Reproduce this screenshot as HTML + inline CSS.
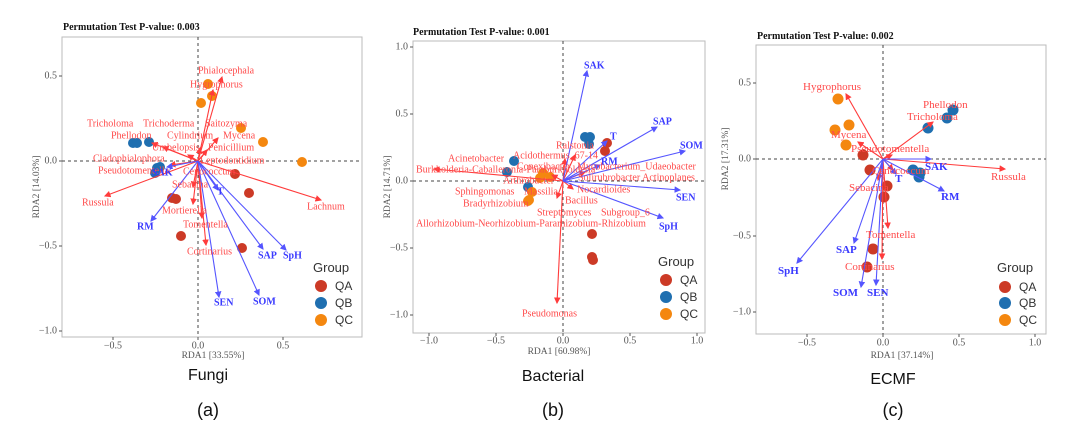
<!DOCTYPE html>
<html><head><meta charset="utf-8"><style>
html,body{margin:0;padding:0;background:#fff;}
svg{display:block;}
.r{fill:#ff4a4a;font-family:"Liberation Serif",serif;font-size:10px;dominant-baseline:central;}
.b{fill:#3a3aff;font-family:"Liberation Serif",serif;font-size:10px;font-weight:bold;dominant-baseline:central;}
.tk{fill:#555;font-family:"Liberation Serif",serif;font-size:10px;dominant-baseline:central;}
.ttl{fill:#111;font-family:"Liberation Serif",serif;font-size:10px;font-weight:bold;}
.ax{fill:#555;font-family:"Liberation Serif",serif;font-size:9.5px;text-anchor:middle;}
.lg{fill:#333;font-family:"Liberation Sans",sans-serif;font-size:13px;}
.lt{fill:#333;font-family:"Liberation Sans",sans-serif;font-size:12px;dominant-baseline:central;}
.cap{fill:#111;font-family:"Liberation Sans",sans-serif;font-size:16px;text-anchor:middle;}
.pl{fill:#111;font-family:"Liberation Sans",sans-serif;font-size:18px;text-anchor:middle;}
.ra line{stroke:#ff3b3b;stroke-width:1.1;marker-end:url(#ar);}
.ba line{stroke:#5555ff;stroke-width:1.1;marker-end:url(#ab);}
.frame{fill:none;stroke:#bbb;stroke-width:1;}
.dz{stroke:#444;stroke-width:1;stroke-dasharray:3,3;}
</style></head><body>
<svg width="1080" height="426" viewBox="0 0 1080 426" xmlns="http://www.w3.org/2000/svg">
<defs>
<marker id="ar" markerWidth="6" markerHeight="6" refX="5" refY="3" orient="auto"><path d="M0,0 L6,3 L0,6 z" fill="#ff3b3b"/></marker>
<marker id="ab" markerWidth="6" markerHeight="6" refX="5" refY="3" orient="auto"><path d="M0,0 L6,3 L0,6 z" fill="#5555ff"/></marker>
</defs>

<!-- ============ Panel a ============ -->
<text class="ttl" x="63" y="30">Permutation Test P-value: 0.003</text>
<rect class="frame" x="62" y="37" width="300" height="300"/>
<line class="dz" x1="198" y1="37" x2="198" y2="337"/>
<line class="dz" x1="62" y1="161" x2="362" y2="161"/>
<g stroke="#555"><line x1="59" y1="76" x2="62" y2="76"/><line x1="59" y1="161" x2="62" y2="161"/><line x1="59" y1="246" x2="62" y2="246"/><line x1="59" y1="331" x2="62" y2="331"/>
<line x1="113" y1="337" x2="113" y2="340"/><line x1="198" y1="337" x2="198" y2="340"/><line x1="283" y1="337" x2="283" y2="340"/></g>
<g class="tk" text-anchor="end"><text x="57" y="76">0.5</text><text x="57" y="161">0.0</text><text x="57" y="246">−0.5</text><text x="57" y="331">−1.0</text></g>
<g class="tk" text-anchor="middle"><text x="113" y="346">−0.5</text><text x="198" y="346">0.0</text><text x="283" y="346">0.5</text></g>
<text class="ax" x="213" y="358">RDA1 [33.55%]</text>
<text class="ax" transform="translate(39,187) rotate(-90)">RDA2 [14.03%]</text>
<g>
<circle cx="208" cy="84" r="5" fill="#f4870f"/><circle cx="212" cy="96" r="5" fill="#f4870f"/><circle cx="201" cy="103" r="5" fill="#f4870f"/><circle cx="241" cy="128" r="5" fill="#f4870f"/><circle cx="263" cy="142" r="5" fill="#f4870f"/><circle cx="302" cy="162" r="5" fill="#f4870f"/>
<circle cx="133" cy="143" r="5" fill="#1f6fb0"/><circle cx="137" cy="143" r="5" fill="#1f6fb0"/><circle cx="149" cy="142" r="5" fill="#1f6fb0"/><circle cx="157" cy="168" r="5" fill="#1f6fb0"/><circle cx="160" cy="167" r="5" fill="#1f6fb0"/><circle cx="155" cy="173" r="5" fill="#1f6fb0"/>
<circle cx="235" cy="174" r="5" fill="#cc3a26"/><circle cx="249" cy="193" r="5" fill="#cc3a26"/><circle cx="172" cy="198" r="5" fill="#cc3a26"/><circle cx="176" cy="199" r="5" fill="#cc3a26"/><circle cx="181" cy="236" r="5" fill="#cc3a26"/><circle cx="242" cy="248" r="5" fill="#cc3a26"/>
</g>
<g class="ra">
<line x1="198" y1="161" x2="222" y2="77"/><line x1="198" y1="161" x2="213" y2="90"/><line x1="198" y1="161" x2="321" y2="200"/><line x1="198" y1="161" x2="105" y2="196"/><line x1="198" y1="161" x2="193" y2="204"/><line x1="198" y1="161" x2="202" y2="218"/><line x1="198" y1="161" x2="206" y2="245"/><line x1="198" y1="161" x2="193" y2="187"/><line x1="198" y1="161" x2="163" y2="147"/><line x1="198" y1="161" x2="152" y2="143"/><line x1="198" y1="161" x2="218" y2="138"/><line x1="198" y1="161" x2="207" y2="150"/><line x1="198" y1="161" x2="188" y2="155"/><line x1="198" y1="161" x2="200" y2="148"/><line x1="198" y1="161" x2="170" y2="165"/>
</g>
<g class="ba">
<line x1="198" y1="161" x2="167" y2="167"/><line x1="198" y1="161" x2="151" y2="221"/><line x1="198" y1="161" x2="218" y2="190"/><line x1="198" y1="161" x2="263" y2="249"/><line x1="198" y1="161" x2="286" y2="250"/><line x1="198" y1="161" x2="219" y2="297"/><line x1="198" y1="161" x2="259" y2="295"/>
</g>
<g class="r">
<text x="198" y="71">Phialocephala</text><text x="190" y="85">Hygrophorus</text><text x="87" y="124">Tricholoma</text><text x="143" y="124">Trichoderma</text><text x="205" y="124">Saitozyma</text><text x="111" y="136">Phellodon</text><text x="167" y="136">Cylindrium</text><text x="223" y="136">Mycena</text><text x="152" y="148">Umbelopsis</text><text x="208" y="148">Penicillium</text><text x="93" y="159">Cladophialophora</text><text x="200" y="161">Leptodontidium</text><text x="98" y="171">Pseudotomentella</text><text x="183" y="172">Cenococcum</text><text x="172" y="185">Sebacina</text><text x="82" y="203">Russula</text><text x="307" y="207">Lachnum</text><text x="162" y="211">Mortierella</text><text x="183" y="225">Tomentella</text><text x="187" y="252">Cortinarius</text>
</g>
<g class="b">
<text x="152" y="173">SAK</text><text x="137" y="227">RM</text><text x="217" y="192">T</text><text x="258" y="256">SAP</text><text x="283" y="256">SpH</text><text x="214" y="303">SEN</text><text x="253" y="302">SOM</text>
</g>
<text class="lg" x="313" y="272">Group</text>
<circle cx="321" cy="286" r="6" fill="#cc3a26"/><circle cx="321" cy="303" r="6" fill="#1f6fb0"/><circle cx="321" cy="320" r="6" fill="#f4870f"/>
<g class="lt"><text x="335" y="286">QA</text><text x="335" y="303">QB</text><text x="335" y="320">QC</text></g>
<text class="cap" x="208" y="380">Fungi</text>
<text class="pl" x="208" y="416">(a)</text>

<!-- ============ Panel b ============ -->
<text class="ttl" x="413" y="35">Permutation Test P-value: 0.001</text>
<rect class="frame" x="413" y="41" width="292" height="292"/>
<line class="dz" x1="563" y1="41" x2="563" y2="333"/>
<line class="dz" x1="413" y1="181" x2="705" y2="181"/>
<g stroke="#555"><line x1="410" y1="47" x2="413" y2="47"/><line x1="410" y1="114" x2="413" y2="114"/><line x1="410" y1="181" x2="413" y2="181"/><line x1="410" y1="248" x2="413" y2="248"/><line x1="410" y1="315" x2="413" y2="315"/>
<line x1="429" y1="333" x2="429" y2="336"/><line x1="496" y1="333" x2="496" y2="336"/><line x1="563" y1="333" x2="563" y2="336"/><line x1="630" y1="333" x2="630" y2="336"/><line x1="697" y1="333" x2="697" y2="336"/></g>
<g class="tk" text-anchor="end"><text x="408" y="47">1.0</text><text x="408" y="114">0.5</text><text x="408" y="181">0.0</text><text x="408" y="248">−0.5</text><text x="408" y="315">−1.0</text></g>
<g class="tk" text-anchor="middle"><text x="429" y="341">−1.0</text><text x="496" y="341">−0.5</text><text x="563" y="341">0.0</text><text x="630" y="341">0.5</text><text x="697" y="341">1.0</text></g>
<text class="ax" x="559" y="354">RDA1 [60.98%]</text>
<text class="ax" transform="translate(390,187) rotate(-90)">RDA2 [14.71%]</text>
<g>
<circle cx="585" cy="137" r="5" fill="#1f6fb0"/><circle cx="590" cy="137" r="5" fill="#1f6fb0"/><circle cx="589" cy="144" r="5" fill="#1f6fb0"/><circle cx="514" cy="161" r="5" fill="#1f6fb0"/><circle cx="507" cy="172" r="5" fill="#1f6fb0"/><circle cx="528" cy="187" r="5" fill="#1f6fb0"/>
<circle cx="607" cy="143" r="5" fill="#cc3a26"/><circle cx="605" cy="151" r="5" fill="#cc3a26"/><circle cx="592" cy="234" r="5" fill="#cc3a26"/><circle cx="592" cy="257" r="5" fill="#cc3a26"/><circle cx="593" cy="260" r="5" fill="#cc3a26"/>
<circle cx="543" cy="173" r="5" fill="#f4870f"/><circle cx="540" cy="178" r="5" fill="#f4870f"/><circle cx="550" cy="177" r="5" fill="#f4870f"/><circle cx="532" cy="192" r="5" fill="#f4870f"/><circle cx="529" cy="200" r="5" fill="#f4870f"/><circle cx="528" cy="201" r="5" fill="#f4870f"/>
</g>
<g class="ra">
<line x1="563" y1="181" x2="434" y2="169"/><line x1="563" y1="181" x2="557" y2="303"/><line x1="563" y1="181" x2="557" y2="198"/><line x1="563" y1="181" x2="573" y2="189"/><line x1="563" y1="181" x2="565" y2="159"/><line x1="563" y1="181" x2="575" y2="155"/><line x1="563" y1="181" x2="552" y2="175"/><line x1="563" y1="181" x2="585" y2="172"/>
</g>
<g class="ba">
<line x1="563" y1="181" x2="587" y2="71"/><line x1="563" y1="181" x2="657" y2="127"/><line x1="563" y1="181" x2="685" y2="151"/><line x1="563" y1="181" x2="680" y2="190"/><line x1="563" y1="181" x2="663" y2="218"/><line x1="563" y1="181" x2="607" y2="141"/><line x1="563" y1="181" x2="600" y2="165"/>
</g>
<g class="r">
<text x="556" y="146">Ralstonia</text><text x="448" y="159">Acinetobacter</text><text x="513" y="156">Acidothermus_67-14</text><text x="416" y="170">Burkholderia-Caballeronia-Paraburkholderia</text><text x="517" y="167">Conexibacter</text><text x="577" y="167">Mycobacterium_Udaeobacter</text><text x="578" y="178">Solirubrobacter Actinoplanes</text><text x="503" y="181">Arthrobacter</text><text x="455" y="192">Sphingomonas</text><text x="524" y="192">Massilia</text><text x="577" y="190">Nocardioides</text><text x="463" y="204">Bradyrhizobium</text><text x="565" y="201">Bacillus</text><text x="537" y="213">Streptomyces</text><text x="601" y="213">Subgroup_6</text><text x="416" y="224">Allorhizobium-Neorhizobium-Pararhizobium-Rhizobium</text><text x="522" y="314">Pseudomonas</text>
</g>
<g class="b">
<text x="584" y="66">SAK</text><text x="653" y="122">SAP</text><text x="680" y="146">SOM</text><text x="676" y="198">SEN</text><text x="659" y="227">SpH</text><text x="610" y="137">T</text><text x="601" y="162">RM</text>
</g>
<text class="lg" x="658" y="266">Group</text>
<circle cx="666" cy="280" r="6" fill="#cc3a26"/><circle cx="666" cy="297" r="6" fill="#1f6fb0"/><circle cx="666" cy="314" r="6" fill="#f4870f"/>
<g class="lt"><text x="680" y="280">QA</text><text x="680" y="297">QB</text><text x="680" y="314">QC</text></g>
<text class="cap" x="553" y="381">Bacterial</text>
<text class="pl" x="553" y="416">(b)</text>

<!-- ============ Panel c ============ -->
<text class="ttl" x="757" y="39">Permutation Test P-value: 0.002</text>
<rect class="frame" x="756" y="45" width="290" height="289"/>
<line class="dz" x1="883" y1="45" x2="883" y2="334"/>
<line class="dz" x1="756" y1="159" x2="1046" y2="159"/>
<g stroke="#555"><line x1="753" y1="83" x2="756" y2="83"/><line x1="753" y1="159" x2="756" y2="159"/><line x1="753" y1="236" x2="756" y2="236"/><line x1="753" y1="312" x2="756" y2="312"/>
<line x1="807" y1="334" x2="807" y2="337"/><line x1="883" y1="334" x2="883" y2="337"/><line x1="959" y1="334" x2="959" y2="337"/><line x1="1035" y1="334" x2="1035" y2="337"/></g>
<g class="tk" text-anchor="end"><text x="751" y="83">0.5</text><text x="751" y="159">0.0</text><text x="751" y="236">−0.5</text><text x="751" y="312">−1.0</text></g>
<g class="tk" text-anchor="middle"><text x="807" y="343">−0.5</text><text x="883" y="343">0.0</text><text x="959" y="343">0.5</text><text x="1035" y="343">1.0</text></g>
<text class="ax" x="902" y="358">RDA1 [37.14%]</text>
<text class="ax" transform="translate(728,159) rotate(-90)">RDA2 [17.31%]</text>
<g>
<circle cx="838" cy="99" r="5.5" fill="#f4870f"/><circle cx="835" cy="130" r="5.5" fill="#f4870f"/><circle cx="849" cy="125" r="5.5" fill="#f4870f"/><circle cx="846" cy="145" r="5.5" fill="#f4870f"/>
<circle cx="863" cy="155" r="5.5" fill="#cc3a26"/><circle cx="870" cy="170" r="5.5" fill="#cc3a26"/><circle cx="887" cy="186" r="5.5" fill="#cc3a26"/><circle cx="884" cy="197" r="5.5" fill="#cc3a26"/><circle cx="873" cy="249" r="5.5" fill="#cc3a26"/><circle cx="867" cy="267" r="5.5" fill="#cc3a26"/>
<circle cx="953" cy="110" r="5.5" fill="#1f6fb0"/><circle cx="947" cy="118" r="5.5" fill="#1f6fb0"/><circle cx="928" cy="128" r="5.5" fill="#1f6fb0"/><circle cx="913" cy="170" r="5.5" fill="#1f6fb0"/><circle cx="920" cy="173" r="5.5" fill="#1f6fb0"/><circle cx="919" cy="177" r="5.5" fill="#1f6fb0"/>
</g>
<g class="ra">
<line x1="883" y1="159" x2="846" y2="94"/><line x1="883" y1="159" x2="933" y2="122"/><line x1="883" y1="159" x2="858" y2="142"/><line x1="883" y1="159" x2="1005" y2="169"/><line x1="883" y1="159" x2="888" y2="228"/><line x1="883" y1="159" x2="882" y2="259"/><line x1="883" y1="159" x2="892" y2="155"/><line x1="883" y1="159" x2="893" y2="170"/><line x1="883" y1="159" x2="878" y2="180"/>
</g>
<g class="ba">
<line x1="883" y1="159" x2="797" y2="263"/><line x1="883" y1="159" x2="854" y2="243"/><line x1="883" y1="159" x2="861" y2="287"/><line x1="883" y1="159" x2="876" y2="285"/><line x1="883" y1="159" x2="931" y2="159"/><line x1="883" y1="159" x2="944" y2="191"/><line x1="883" y1="159" x2="896" y2="174"/>
</g>
<g class="r" style="font-size:11px">
<text x="803" y="87">Hygrophorus</text><text x="923" y="105">Phellodon</text><text x="907" y="117">Tricholoma</text><text x="831" y="135">Mycena</text><text x="851" y="149">Pseudotomentella</text><text x="872" y="171">Cenococcum</text><text x="849" y="188">Sebacina</text><text x="991" y="177">Russula</text><text x="866" y="235">Tomentella</text><text x="845" y="267">Cortinarius</text>
</g>
<g class="b" style="font-size:11px">
<text x="778" y="271">SpH</text><text x="836" y="250">SAP</text><text x="833" y="293">SOM</text><text x="867" y="293">SEN</text><text x="925" y="167">SAK</text><text x="941" y="197">RM</text><text x="895" y="179">T</text>
</g>
<text class="lg" x="997" y="272">Group</text>
<circle cx="1005" cy="287" r="6" fill="#cc3a26"/><circle cx="1005" cy="303" r="6" fill="#1f6fb0"/><circle cx="1005" cy="320" r="6" fill="#f4870f"/>
<g class="lt"><text x="1019" y="287">QA</text><text x="1019" y="303">QB</text><text x="1019" y="320">QC</text></g>
<text class="cap" x="893" y="384">ECMF</text>
<text class="pl" x="893" y="416">(c)</text>
</svg>
</body></html>
